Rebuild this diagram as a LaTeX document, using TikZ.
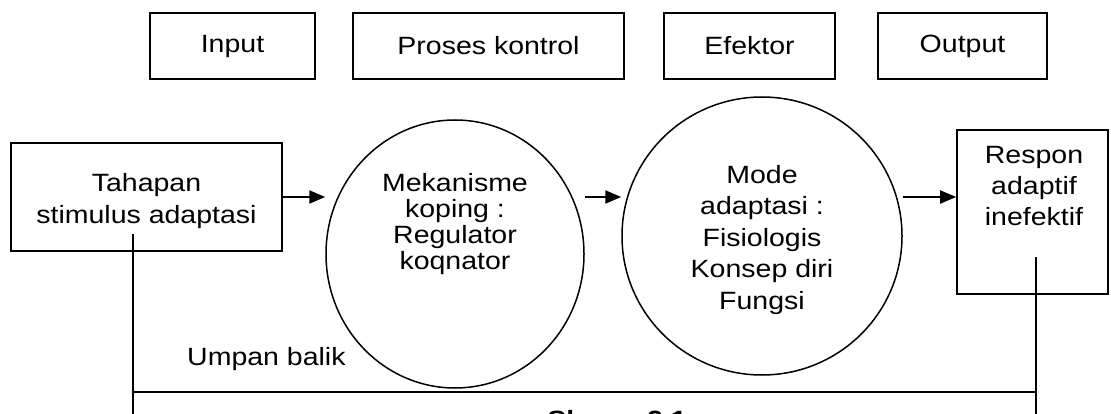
\documentclass[tikz,border=0pt]{standalone}
\usepackage{fontspec}
\setmainfont{Liberation Sans}[FakeStretch=1.14]
\usetikzlibrary{arrows.meta,shapes.geometric}
\tikzstyle{box} = [draw,line width=1.6pt,rectangle,inner sep=0pt]
\tikzstyle{arr} = [draw,line width=2pt,-{Triangle[length=16pt,width=13pt]}]
\tikzstyle{fb} = [draw,line width=1.8pt]

\begin{document}
\begin{tikzpicture}[x=1pt,y=-1pt,
  main node/.style={ellipse,draw,line width=1.5pt,inner sep=0pt},
  lbl/.style={align=center,inner sep=0pt,font=\fontsize{25}{31}\selectfont}]
  \useasboundingbox (0,0) rectangle (1111,414);

  % header
  \node[box,lbl,minimum width=165pt,minimum height=66pt] (in) at (232.5,46) {Input};
  \node[box,lbl,minimum width=271pt,minimum height=66pt] (pk) at (488.5,46) {Proses kontrol};
  \node[box,lbl,minimum width=171pt,minimum height=66pt] (ef) at (749.5,46) {Efektor};
  \node[box,lbl,minimum width=169pt,minimum height=66pt] (out) at (962.5,46) {Output};

  % alur
  \node[box,minimum width=271pt,minimum height=108pt] (st) at (146.5,197) {};
  \node[lbl,font=\fontsize{25}{32}\selectfont] at (146.5,201) {Tahapan\\stimulus adaptasi};
  \node[main node,minimum width=258pt,minimum height=268pt] (mk) at (455,254) {};
  \node[lbl,font=\fontsize{25}{26}\selectfont] at (455,224) {Mekanisme\\koping :\\Regulator\\koqnator};
  \node[main node,minimum width=280pt,minimum height=278pt] (md) at (762,236) {};
  \node[lbl,font=\fontsize{25}{31.5}\selectfont] at (762,240) {Mode\\adaptasi :\\Fisiologis\\Konsep diri\\Fungsi};
  \node[box,minimum width=151pt,minimum height=164pt] (rs) at (1032.5,212) {};
  \node[lbl] at (1034,186) {Respon\\adaptif\\inefektif};

  \draw[arr] (st.east) -- (st.east -| mk.west);
  \draw[arr] (st.east -| mk.east) -- (st.east -| md.west);
  \draw[arr] (st.east -| md.east) -- (st.east -| rs.west);

  % umpan balik
  \coordinate (f1) at (133,234);
  \coordinate (f2) at (1036,257);
  \coordinate (h) at (0,392);
  \coordinate (b) at (0,430);
  \draw[fb] (f1) -- (f1 |- b);
  \draw[fb] (f2) -- (f2 |- b);
  \draw[fb] (f1 |- h) -- (f2 |- h);
  \node[lbl,anchor=base west] (ub) at (187,365) {Umpan balik};
  \node[lbl,anchor=north,font=\bfseries\fontsize{25}{31}\selectfont] (sk) at (617,410) {Skema 2.1};
\end{tikzpicture}
\end{document}
